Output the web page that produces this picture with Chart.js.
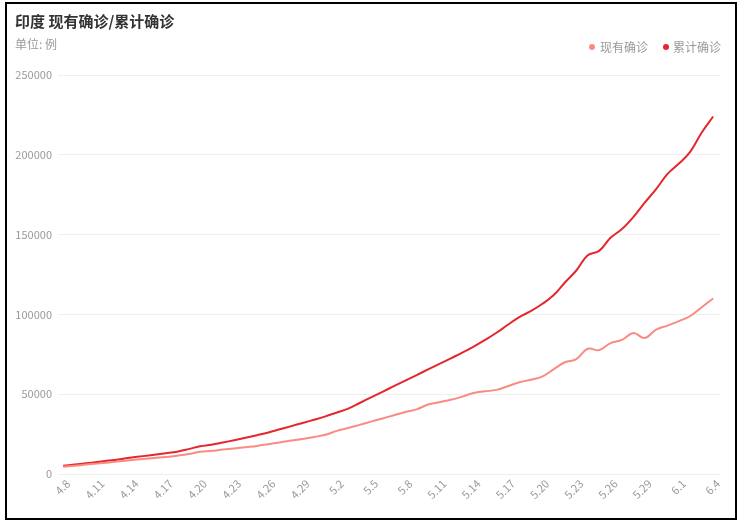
<!DOCTYPE html>
<html lang="zh">
<head>
    <meta charset="UTF-8">
    <title>印度 现有确诊/累计确诊</title>
    <script src="https://cdn.jsdelivr.net/npm/chart.js"></script>
    <style>
        body { margin: 0; background: #fff; font-family: 'Noto Sans CJK SC', 'Noto Sans', sans-serif; }
        #wrap { position: relative; width: 743px; height: 525px; }
        #chart { position: absolute; left: 0; top: 0; }
        .frame { position: absolute; left: 5px; top: 2px; width: 728px; height: 514px; border: 2px solid #000; pointer-events: none; }
        .title { position: absolute; left: 15px; top: 13px; font-size: 15px; line-height: 15px; font-weight: bold; color: #333; white-space: nowrap; }
        .unit { position: absolute; left: 15px; top: 38px; font-size: 12px; line-height: 12px; color: #999; white-space: nowrap; }
        .legend span { position: absolute; font-size: 12px; line-height: 12px; color: #999; white-space: nowrap; }
        .legend i { position: absolute; width: 6px; height: 6px; border-radius: 50%; }
    </style>
</head>
<body>
<div id="wrap">
    <canvas id="chart" width="743" height="525"></canvas>
    <div class="title">印度 现有确诊/累计确诊</div>
    <div class="unit">单位: 例</div>
    <div class="legend">
        <i id="dot0" style="left: 589px; top: 44px;"></i><span id="lab0" style="left: 600px; top: 41px;"></span>
        <i id="dot1" style="left: 663px; top: 44px;"></i><span id="lab1" style="left: 673px; top: 41px;"></span>
    </div>
    <div class="frame"></div>
</div>
<script>
    const dates = [
        '4.8', '4.9', '4.10', '4.11', '4.12', '4.13', '4.14', '4.15', '4.16', '4.17',
        '4.18', '4.19', '4.20', '4.21', '4.22', '4.23', '4.24', '4.25', '4.26', '4.27',
        '4.28', '4.29', '4.30', '5.1', '5.2', '5.3', '5.4', '5.5', '5.6', '5.7',
        '5.8', '5.9', '5.10', '5.11', '5.12', '5.13', '5.14', '5.15', '5.16', '5.17',
        '5.18', '5.19', '5.20', '5.21', '5.22', '5.23', '5.24', '5.25', '5.26', '5.27',
        '5.28', '5.29', '5.30', '5.31', '6.1', '6.2', '6.3', '6.4'
    ];

    // 现有确诊
    const active = [
        4500, 5200, 5900, 6500, 7200, 8000, 8700, 9400, 10100, 10700,
        11500, 12500, 14000, 14500, 15300, 16000, 16800, 17600, 18700, 19800,
        21000, 22000, 23200, 24600, 27000, 28800, 30800, 32800, 34800, 36800,
        38800, 40500, 43500, 45000, 46500, 48500, 50800, 51800, 52700, 55000,
        57500, 59000, 61000, 65500, 70000, 72000, 78500, 77600, 82000, 84000,
        88300, 85200, 90500, 93000, 95800, 99000, 104500, 110000
    ];

    // 累计确诊
    const total = [
        5200, 5900, 6700, 7500, 8400, 9300, 10300, 11200, 12100, 13000,
        14000, 15600, 17400, 18300, 19700, 21200, 22700, 24300, 26000, 28000,
        30000, 32000, 34000, 36100, 38500, 41000, 44500, 48000, 51500, 55000,
        58500, 62000, 65500, 69000, 72500, 76000, 79800, 84000, 88500, 93500,
        98300, 102000, 106500, 112000, 120000, 127500, 137000, 139800, 148000, 153500,
        161000, 170000, 178500, 188000, 194500, 202000, 214000, 224000
    ];

    const seriesNames = ['现有确诊', '累计确诊'];
    const colors = ['#f98b82', '#e3272d'];
    const yTicks = [0, 50000, 100000, 150000, 200000, 250000];

    seriesNames.forEach((name, k) => {
        document.getElementById('lab' + k).textContent = name;
        document.getElementById('dot' + k).style.background = colors[k];
    });

    const toPoints = arr => arr.map((v, i) => ({ x: i, y: v }));

    Chart.defaults.font.family = "'Noto Sans CJK SC', 'Noto Sans', sans-serif";

    new Chart(document.getElementById('chart').getContext('2d'), {
        type: 'line',
        data: {
            datasets: [
                {
                    label: seriesNames[0],
                    data: toPoints(active),
                    borderColor: colors[0],
                    backgroundColor: colors[0],
                    borderWidth: 2,
                    pointRadius: 0,
                    tension: 0.4,
                    fill: false
                },
                {
                    label: seriesNames[1],
                    data: toPoints(total),
                    borderColor: colors[1],
                    backgroundColor: colors[1],
                    borderWidth: 2,
                    pointRadius: 0,
                    tension: 0.4,
                    fill: false
                }
            ]
        },
        options: {
            responsive: false,
            animation: false,
            layout: { padding: { top: 75, right: 23, bottom: 0, left: 0 } },
            plugins: {
                legend: { display: false },
                tooltip: { enabled: false }
            },
            scales: {
                x: {
                    type: 'linear',
                    min: -0.45,
                    max: 57.6,
                    afterFit: scale => { scale.height = 51; },
                    afterBuildTicks: scale => {
                        scale.ticks = dates.map((d, i) => ({ value: i })).filter(t => t.value % 3 === 0);
                    },
                    grid: { display: false },
                    border: { display: false },
                    ticks: {
                        autoSkip: false,
                        minRotation: 45,
                        maxRotation: 45,
                        labelOffset: 5,
                        padding: -5,
                        color: '#999',
                        font: { size: 11 },
                        callback: value => dates[value]
                    }
                },
                y: {
                    min: 0,
                    max: 250000,
                    afterFit: scale => { scale.width = 58; },
                    afterBuildTicks: scale => {
                        scale.ticks = yTicks.map(v => ({ value: v }));
                    },
                    grid: { color: '#efefef', drawTicks: false },
                    border: { display: false },
                    ticks: {
                        padding: 6,
                        color: '#999',
                        font: { size: 11 },
                        callback: value => String(value)
                    }
                }
            }
        }
    });
</script>
</body>
</html>
